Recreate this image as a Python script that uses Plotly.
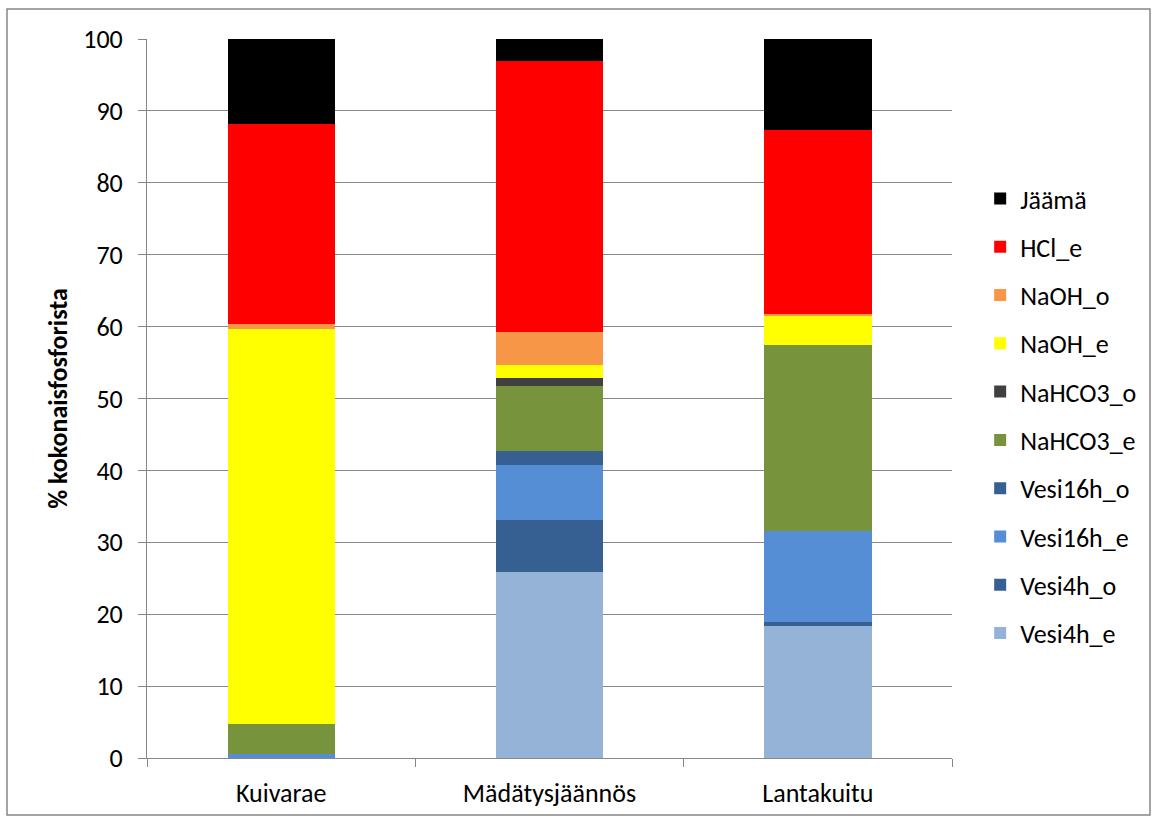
import plotly.graph_objects as go

# Sample categories
categories = ["Kuivarae", "Mädätysjäännös", "Lantakuitu"]

# Fractions stacked from bottom to top (% of total phosphorus)
vesi4h_e = [0.0, 25.9, 18.4]
vesi4h_o = [0.0, 7.2, 0.5]
vesi16h_e = [0.6, 7.7, 12.7]
vesi16h_o = [0.0, 1.9, 0.0]
nahco3_e = [4.1, 9.1, 25.9]
nahco3_o = [0.0, 1.0, 0.0]
naoh_e = [55.0, 1.8, 4.0]
naoh_o = [0.6, 4.7, 0.3]
hcl_e = [27.9, 37.7, 25.5]
jaama = [11.8, 3.0, 12.7]

series = [
    ("Vesi4h_e", vesi4h_e, "#95B3D7"),
    ("Vesi4h_o", vesi4h_o, "#376092"),
    ("Vesi16h_e", vesi16h_e, "#558ED5"),
    ("Vesi16h_o", vesi16h_o, "#376092"),
    ("NaHCO3_e", nahco3_e, "#77933C"),
    ("NaHCO3_o", nahco3_o, "#404040"),
    ("NaOH_e", naoh_e, "#FFFF00"),
    ("NaOH_o", naoh_o, "#F79646"),
    ("HCl_e", hcl_e, "#FF0000"),
    ("Jäämä", jaama, "#000000"),
]

y_ticks = list(range(0, 101, 10))

fig = go.Figure()
n = len(series)
for i, (name, vals, color) in enumerate(series):
    fig.add_trace(go.Bar(
        x=categories, y=vals, name=name,
        legendgroup=name, legendrank=n - i,
        marker=dict(color=color, line=dict(width=0)),
    ))

font_family = "Carlito, Calibri, Lato, 'Open Sans', sans-serif"
fs = 26

fig.update_layout(
    barmode="stack",
    bargap=0.6,
    width=1153, height=820,
    margin=dict(l=147, r=201, t=39, b=62, autoexpand=False),
    plot_bgcolor="white",
    paper_bgcolor="white",
    font=dict(family=font_family, size=fs, color="black"),
    legend=dict(
        traceorder="grouped",
        tracegroupgap=11.5,
        bgcolor="rgba(0,0,0,0)",
        x=1.035, y=(758 - 175) / 719, xanchor="left", yanchor="top",
        font=dict(size=fs),
        itemwidth=30,
    ),
    xaxis=dict(
        showline=True, linecolor="#868686", linewidth=1,
        ticks="outside", ticklen=8, tickcolor="#868686",
        tickson="boundaries",
        showgrid=False,
        tickfont=dict(size=fs),
        ticklabelstandoff=12,
    ),
    yaxis=dict(
        range=[0, 100],
        tickvals=y_ticks,
        showline=True, linecolor="#868686", linewidth=1,
        ticks="outside", ticklen=8, tickcolor="#868686",
        showgrid=True, gridcolor="#868686", gridwidth=1,
        zeroline=False,
        tickfont=dict(size=fs),
        ticklabelstandoff=10,
        title=dict(text="<b>% kokonaisfosforista</b>", font=dict(size=fs), standoff=8),
    ),
    shapes=[dict(
        type="rect", xref="paper", yref="paper",
        x0=(7 - 147) / 805, x1=(1150 - 147) / 805,
        y0=-(815 - 758) / 719, y1=(758 - 9) / 719,
        line=dict(color="#868686", width=1.5),
        fillcolor="rgba(0,0,0,0)", layer="below",
    )],
)

fig.write_html("out.html")
